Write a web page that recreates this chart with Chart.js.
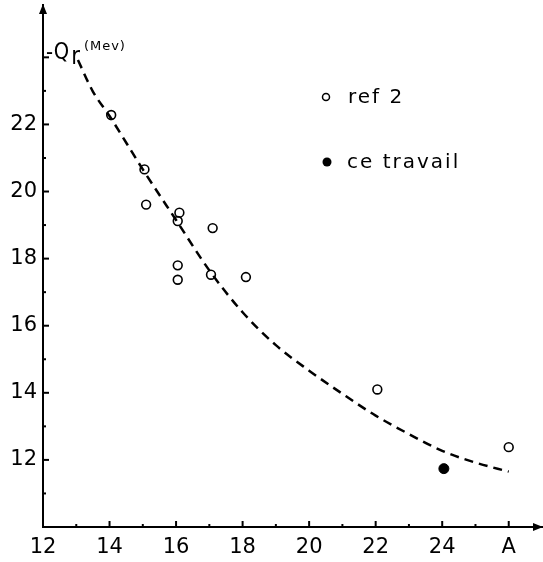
<!DOCTYPE html>
<html><head><meta charset="utf-8">
<script src="https://cdn.jsdelivr.net/npm/chart.js@4.4.0/dist/chart.umd.min.js"></script>
<style>html,body{margin:0;padding:0;background:#fff;overflow:hidden}#wrap{width:543px;height:562px}</style>
</head><body><div id="wrap"><canvas id="c" width="543" height="562"></canvas></div>
<script>
// ---- data ----
const refA = [14.05, 15.05, 15.1, 16.1, 16.05, 16.05, 16.05, 17.1, 17.05, 18.1, 22.05, 26.0];
const refQ = [22.28, 20.66, 19.61, 19.37, 19.12, 17.80, 17.37, 18.91, 17.52, 17.45, 14.10, 12.38];
const ceA = [24.05];
const ceQ = [11.74];
const fitA = [13.05, 13.5, 14, 15, 16, 17, 18, 19, 20, 21, 22, 23, 24, 25, 26];
const fitQ = [23.92, 22.98, 22.25, 20.66, 19.15, 17.65, 16.4, 15.42, 14.66, 13.97, 13.32, 12.77, 12.27, 11.92, 11.65];
const xTicks = [12, 14, 16, 18, 20, 22, 24, 26];
const xTickLabels = ['12', '14', '16', '18', '20', '22', '24', 'A'];
const yTicks = [12, 14, 16, 18, 20, 22];
const yTickLabels = ['12', '14', '16', '18', '20', '22'];
const seriesLabels = ['ref 2', 'ce travail'];
const yTitleMain = '-Q';
const yTitleSub = 'r';
const yTitleUnit = '(Mev)';

const FONT = 'DejaVu Sans';
const toPts = (xs, ys) => xs.map((v, i) => ({x: v, y: ys[i]}));
const noPad = s => { s.paddingTop = 0; s.paddingBottom = 0; s.paddingLeft = 0; s.paddingRight = 0; };

function narrowText(ctx, t, x, y, sx) {
  ctx.save(); ctx.translate(x, y); ctx.scale(sx, 1); ctx.fillText(t, 0, 0);
  const w = ctx.measureText(t).width * sx; ctx.restore(); return w;
}

const decor = {
  id: 'decor',
  afterDraw(chart) {
    const {ctx, chartArea: ca, scales: {x, y}} = chart;
    ctx.save();
    ctx.strokeStyle = '#000'; ctx.fillStyle = '#000'; ctx.lineWidth = 2;
    // inward tick marks
    for (let v = 13; v <= 26; v++) {
      const px = x.getPixelForValue(v), len = v % 2 === 0 ? 6 : 3;
      ctx.beginPath(); ctx.moveTo(px, ca.bottom); ctx.lineTo(px, ca.bottom - len); ctx.stroke();
    }
    for (let v = 11; v <= 24; v++) {
      const py = y.getPixelForValue(v), len = v % 2 === 0 ? 6 : 3;
      ctx.beginPath(); ctx.moveTo(ca.left, py); ctx.lineTo(ca.left + len, py); ctx.stroke();
    }
    // arrows
    ctx.beginPath(); ctx.moveTo(ca.right + 1, ca.bottom); ctx.lineTo(ca.right - 9, ca.bottom - 4); ctx.lineTo(ca.right - 9, ca.bottom + 4); ctx.closePath(); ctx.fill();
    ctx.beginPath(); ctx.moveTo(ca.left, ca.top - 1); ctx.lineTo(ca.left - 4, ca.top + 9); ctx.lineTo(ca.left + 4, ca.top + 9); ctx.closePath(); ctx.fill();
    // y-axis title
    const by = y.getPixelForValue(23.95);
    ctx.textBaseline = 'alphabetic'; ctx.textAlign = 'left';
    ctx.letterSpacing = '0px';
    const x0 = ca.left + 3;
    ctx.font = '23px "' + FONT + '"';
    const w1 = narrowText(ctx, yTitleMain, x0, by, 0.85);
    ctx.font = '25px "' + FONT + '"';
    const w2 = narrowText(ctx, yTitleSub, x0 + w1 + 2, by + 5, 0.85);
    ctx.font = '13px "' + FONT + '"';
    ctx.letterSpacing = '1px';
    ctx.fillText(yTitleUnit, x0 + w1 + w2 + 6, by - 9);
    // legend
    ctx.font = '20px "' + FONT + '"';
    ctx.letterSpacing = '2px';
    ctx.lineWidth = 1.5;
    ctx.beginPath(); ctx.arc(326, 97, 3.5, 0, Math.PI * 2); ctx.stroke();
    ctx.fillText(seriesLabels[0], 348, 103);
    ctx.beginPath(); ctx.arc(327, 162, 4.5, 0, Math.PI * 2); ctx.fill();
    ctx.fillText(seriesLabels[1], 347, 168);
    ctx.restore();
  }
};

new Chart(document.getElementById('c'), {
  type: 'scatter',
  data: {
    datasets: [
      {label: seriesLabels[0], data: toPts(refA, refQ), pointStyle: 'circle', pointRadius: 4.4,
       borderColor: '#000', borderWidth: 1.6, backgroundColor: 'rgba(0,0,0,0)', showLine: false},
      {label: seriesLabels[1], data: toPts(ceA, ceQ), pointStyle: 'circle', pointRadius: 5,
       borderColor: '#000', borderWidth: 1, backgroundColor: '#000', showLine: false},
      {label: 'fit', data: toPts(fitA, fitQ), showLine: true, pointRadius: 0, borderColor: '#000',
       borderWidth: 2.5, borderDash: [9, 6], cubicInterpolationMode: 'monotone', fill: false}
    ]
  },
  options: {
    responsive: false, animation: false, devicePixelRatio: 1,
    layout: {autoPadding: false, padding: {top: 5, right: 1, left: 0, bottom: 0}},
    plugins: {legend: {display: false}, tooltip: {enabled: false}},
    scales: {
      x: {
        type: 'linear', position: 'bottom', min: 12, max: 27,
        border: {color: '#000', width: 2},
        grid: {display: true, drawOnChartArea: false, drawTicks: false},
        afterBuildTicks: s => { s.ticks = xTicks.map(v => ({value: v})); },
        afterFit: s => { s.height = 35; noPad(s); },
        ticks: {color: '#000', font: {family: FONT, size: 21}, padding: 8, autoSkip: false, maxRotation: 0,
                callback: v => xTickLabels[xTicks.indexOf(v)]}
      },
      y: {
        type: 'linear', position: 'left', min: 10, max: 25.56,
        border: {color: '#000', width: 2},
        grid: {display: true, drawOnChartArea: false, drawTicks: false},
        afterBuildTicks: s => { s.ticks = yTicks.map(v => ({value: v})); },
        afterFit: s => { s.width = 43; noPad(s); },
        ticks: {color: '#000', font: {family: FONT, size: 21}, padding: 6, autoSkip: false,
                callback: v => yTickLabels[yTicks.indexOf(v)]}
      }
    }
  },
  plugins: [decor]
});
</script></body></html>
